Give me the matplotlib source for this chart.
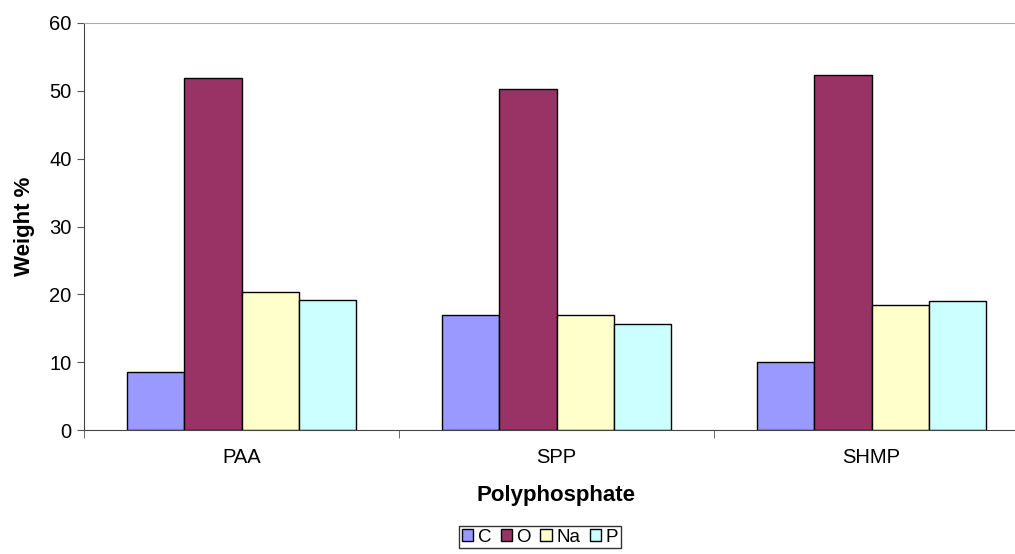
import numpy as np
import matplotlib.pyplot as plt

# data
categories = ["PAA", "SPP", "SHMP"]
elements = ["C", "O", "Na", "P"]
c_vals = [8.6, 17.0, 10.0]
o_vals = [51.9, 50.2, 52.3]
na_vals = [20.3, 17.0, 18.5]
p_vals = [19.2, 15.7, 19.0]
colors = ["#9999FF", "#993366", "#FFFFCC", "#CCFFFF"]

plt.rcParams["font.family"] = ["Liberation Sans", "DejaVu Sans"]

fig = plt.figure(figsize=(10.15, 5.54), dpi=100)
# plot area runs past the right edge in the original (cropped)
ax = fig.add_axes([84 / 1015, 124 / 554, 945 / 1015, 407 / 554])

x = np.arange(len(categories))
bar_w = 0.727 / 4
series = [c_vals, o_vals, na_vals, p_vals]
for i, (name, vals) in enumerate(zip(elements, series)):
    ax.bar(x + (i - 1.5) * bar_w, vals, width=bar_w, color=colors[i],
           edgecolor="black", linewidth=1.0, label=name)

ax.set_xlim(-0.5, len(categories) - 0.5)
ax.set_ylim(0, 60)
ax.set_yticks(range(0, 61, 10))
ax.set_xticks(x)
ax.set_xticklabels(categories)
ax.tick_params(axis="x", length=0, pad=13, labelsize=14.5)
# category boundary ticks
ax.set_xticks(np.arange(len(categories) + 1) - 0.5, minor=True)
ax.tick_params(axis="x", which="minor", length=6, color="#555555", direction="out")
ax.tick_params(axis="y", length=5, color="#555555", labelsize=14.5, pad=4)

ax.spines["top"].set_color("#AAAAAA")
ax.spines["right"].set_color("#AAAAAA")
ax.spines["left"].set_color("#444444")
ax.spines["bottom"].set_color("#444444")

ax.set_ylabel("Weight %", fontsize=16, fontweight="bold", labelpad=10)
ax.set_xlabel("Polyphosphate", fontsize=16, fontweight="bold", labelpad=13)

leg = fig.legend(loc="center", bbox_to_anchor=(540 / 1015, 1 - 537 / 554), ncol=4,
                 fontsize=13.5, frameon=True, fancybox=False, edgecolor="black",
                 handlelength=0.6, handleheight=0.6, handletextpad=0.25,
                 columnspacing=0.5, borderpad=0.15, borderaxespad=0)
leg.get_frame().set_linewidth(1.0)

fig.savefig("out.png", dpi=100)
